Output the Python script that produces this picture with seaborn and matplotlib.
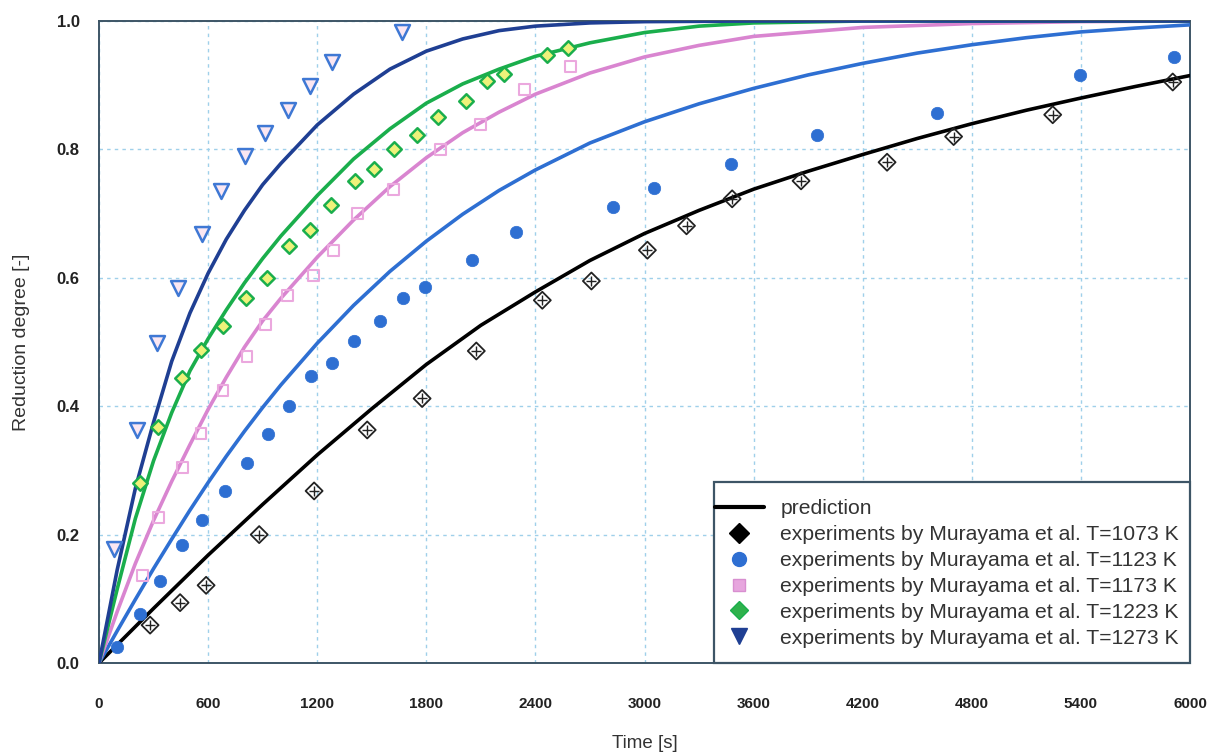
import matplotlib
matplotlib.use("Agg")
import matplotlib.pyplot as plt
from matplotlib.lines import Line2D
from matplotlib.patches import Rectangle
import seaborn as sns

# ---------------- data ----------------
# experiments (Murayama et al.)
t_1073 = [281, 446, 589, 881, 1183, 1475, 1777, 2075, 2438, 2708, 3016, 3231, 3482, 3861, 4334, 4700, 5245, 5905]
x_1073 = [0.059, 0.094, 0.121, 0.200, 0.268, 0.363, 0.412, 0.486, 0.565, 0.595, 0.643, 0.681, 0.723, 0.751, 0.780, 0.820, 0.854, 0.905]

t_1123 = [99, 226, 336, 457, 567, 693, 814, 930, 1046, 1167, 1282, 1403, 1546, 1673, 1794, 2053, 2295, 2829, 3054, 3473, 3951, 4606, 5393, 5911]
x_1123 = [0.025, 0.076, 0.127, 0.184, 0.222, 0.268, 0.312, 0.357, 0.400, 0.447, 0.467, 0.501, 0.533, 0.569, 0.586, 0.628, 0.672, 0.711, 0.740, 0.777, 0.822, 0.856, 0.916, 0.944]

t_1173 = [237, 325, 457, 561, 682, 814, 914, 1035, 1178, 1288, 1420, 1618, 1877, 2097, 2339, 2592]
x_1173 = [0.137, 0.227, 0.304, 0.357, 0.425, 0.478, 0.527, 0.572, 0.603, 0.643, 0.700, 0.738, 0.800, 0.839, 0.893, 0.929]

t_1223 = [226, 325, 457, 561, 682, 809, 925, 1046, 1161, 1277, 1409, 1513, 1623, 1750, 1866, 2020, 2135, 2229, 2466, 2581]
x_1223 = [0.281, 0.367, 0.444, 0.487, 0.525, 0.569, 0.600, 0.649, 0.675, 0.714, 0.751, 0.769, 0.800, 0.823, 0.850, 0.875, 0.906, 0.918, 0.947, 0.958]

t_1273 = [80, 210, 320, 435, 567, 671, 803, 914, 1040, 1161, 1282, 1665]
x_1273 = [0.177, 0.363, 0.498, 0.584, 0.669, 0.735, 0.789, 0.826, 0.862, 0.898, 0.936, 0.983]

# predictions
tp_1073 = [0, 300, 600, 900, 1200, 1500, 1800, 2100, 2400, 2700, 3000, 3300, 3600, 3900, 4200, 4500, 4800, 5100, 5400, 5700, 6000]
xp_1073 = [0, 0.085, 0.168, 0.247, 0.324, 0.396, 0.465, 0.526, 0.578, 0.627, 0.669, 0.705, 0.738, 0.766, 0.792, 0.817, 0.840, 0.861, 0.880, 0.898, 0.915]

tp_1123 = [0, 100, 200, 300, 400, 500, 600, 700, 800, 900, 1000, 1200, 1400, 1600, 1800, 2000, 2200, 2400, 2700, 3000, 3300, 3600, 3900, 4200, 4500, 4800, 5100, 5400, 5700, 6000]
xp_1123 = [0, 0.050, 0.099, 0.147, 0.193, 0.238, 0.281, 0.322, 0.361, 0.398, 0.433, 0.498, 0.557, 0.610, 0.657, 0.699, 0.736, 0.768, 0.810, 0.843, 0.871, 0.895, 0.916, 0.934, 0.950, 0.963, 0.974, 0.983, 0.989, 0.994]

tp_1173 = [0, 100, 200, 300, 400, 500, 600, 700, 800, 900, 1000, 1200, 1400, 1600, 1800, 2000, 2200, 2400, 2700, 3000, 3300, 3600, 4200, 4800, 5400, 6000]
xp_1173 = [0, 0.080, 0.155, 0.222, 0.283, 0.340, 0.395, 0.445, 0.492, 0.533, 0.568, 0.632, 0.690, 0.742, 0.787, 0.826, 0.858, 0.886, 0.919, 0.944, 0.962, 0.976, 0.990, 0.996, 0.999, 1.0]

tp_1223 = [0, 100, 200, 300, 400, 500, 600, 700, 800, 900, 1000, 1200, 1400, 1600, 1800, 2000, 2200, 2400, 2700, 3000, 3300, 3600, 4200, 6000]
xp_1223 = [0, 0.115, 0.225, 0.315, 0.390, 0.455, 0.505, 0.550, 0.592, 0.630, 0.665, 0.728, 0.785, 0.832, 0.872, 0.902, 0.925, 0.945, 0.966, 0.982, 0.992, 0.997, 1.0, 1.0]

tp_1273 = [0, 100, 200, 300, 400, 500, 600, 700, 800, 900, 1000, 1200, 1400, 1600, 1800, 2000, 2200, 2400, 2700, 3000, 3600, 6000]
xp_1273 = [0, 0.145, 0.272, 0.375, 0.470, 0.545, 0.607, 0.660, 0.705, 0.745, 0.778, 0.838, 0.886, 0.925, 0.953, 0.972, 0.985, 0.992, 0.997, 0.999, 1.0, 1.0]

x_ticks = [0, 600, 1200, 1800, 2400, 3000, 3600, 4200, 4800, 5400, 6000]
y_ticks = [0.0, 0.2, 0.4, 0.6, 0.8, 1.0]
legend_labels = ["prediction",
                 "experiments by Murayama et al. T=1073 K",
                 "experiments by Murayama et al. T=1123 K",
                 "experiments by Murayama et al. T=1173 K",
                 "experiments by Murayama et al. T=1223 K",
                 "experiments by Murayama et al. T=1273 K"]

# ---------------- style ----------------
sns.set_style("white")
plt.rcParams['font.family'] = ['Liberation Sans', 'DejaVu Sans']

c_black = "#000000"
c_blue = "#2e6fd2"
c_pink = "#d985d0"
c_green = "#1aae4c"
c_navy = "#1f3f93"
c_tri = "#3f78d4"
c_frame = "#3d5566"

fig = plt.figure(figsize=(12.12, 7.53), dpi=100)
ax = fig.add_axes([99/1212, 90/753, 1091/1212, 642/753])

lw = 2.6
for tp, xp, c in [(tp_1073, xp_1073, c_black), (tp_1123, xp_1123, c_blue),
                  (tp_1173, xp_1173, c_pink), (tp_1223, xp_1223, c_green),
                  (tp_1273, xp_1273, c_navy)]:
    sns.lineplot(x=tp, y=xp, ax=ax, color=c, linewidth=lw, estimator=None,
                 sort=False, zorder=3)

# experiments
sns.scatterplot(x=t_1073, y=x_1073, ax=ax, marker='D', s=75, facecolor='none',
                edgecolor='#222222', linewidth=1.3, zorder=4)
sns.scatterplot(x=t_1073, y=x_1073, ax=ax, marker='+', s=60, color='#222222',
                linewidth=1.0, zorder=4)
sns.scatterplot(x=t_1123, y=x_1123, ax=ax, marker='o', s=80, color=c_blue,
                edgecolor=c_blue, linewidth=0.5, zorder=4)
sns.scatterplot(x=t_1173, y=x_1173, ax=ax, marker='s', s=62, facecolor='none',
                edgecolor='#eba8de', linewidth=1.5, zorder=4)
sns.scatterplot(x=t_1223, y=x_1223, ax=ax, marker='D', s=55, facecolor='#eef27a',
                edgecolor=c_green, linewidth=1.8, zorder=4)
sns.scatterplot(x=t_1273, y=x_1273, ax=ax, marker='v', s=115, facecolor='#fbe7f2',
                edgecolor=c_tri, linewidth=1.8, zorder=4)

# axes
ax.set_xlim(0, 6000)
ax.set_ylim(0, 1.0)
ax.set_xticks(x_ticks)
ax.set_xticklabels([str(v) for v in x_ticks])
ax.set_yticks(y_ticks)
ax.set_yticklabels([f"{v:.1f}" for v in y_ticks])
ax.grid(True, color="#9fd0ea", linestyle=(0, (2.5, 3)), linewidth=1.0, zorder=0)
ax.set_axisbelow(True)
for sp in ax.spines.values():
    sp.set_color(c_frame)
    sp.set_linewidth(1.4)
ax.tick_params(axis='x', direction='out', length=7.5, width=1.2, color=c_frame,
               labelsize=11, labelcolor="#222222", pad=17)
ax.tick_params(axis='y', direction='out', length=8, width=1.2, color=c_frame,
               labelsize=12, labelcolor="#222222", pad=6)
for lab in ax.get_xticklabels() + ax.get_yticklabels():
    lab.set_fontweight('bold')
ax.set_xlabel("Time [s]", fontsize=13.5, color="#333333", labelpad=17)
ax.set_ylabel("Reduction degree [-]", fontsize=14, color="#333333", labelpad=19)

# legend box
ax.add_patch(Rectangle((615/1091, 0), 476/1091, 181/642, transform=ax.transAxes,
                       facecolor='white', edgecolor=c_frame, linewidth=1.6,
                       zorder=5, clip_on=False))
handles = [
    Line2D([], [], color=c_black, linewidth=3),
    Line2D([], [], linestyle='none', marker='D', markersize=10, markerfacecolor='#000000', markeredgecolor='#000000'),
    Line2D([], [], linestyle='none', marker='o', markersize=10, markerfacecolor=c_blue, markeredgecolor=c_blue),
    Line2D([], [], linestyle='none', marker='s', markersize=9, markerfacecolor='#e7a6de', markeredgecolor='#d88fd0'),
    Line2D([], [], linestyle='none', marker='D', markersize=9, markerfacecolor='#2fb24c', markeredgecolor=c_green),
    Line2D([], [], linestyle='none', marker='v', markersize=11, markerfacecolor=c_navy, markeredgecolor=c_navy),
]
leg = ax.legend(handles, legend_labels, loc='upper left',
                bbox_to_anchor=(616/1091, (663-499)/642),
                borderaxespad=0, borderpad=0, frameon=False,
                fontsize=15.2, labelspacing=0.33, handlelength=2.3, handletextpad=0.8)
for txt in leg.get_texts():
    txt.set_color("#333333")
leg.set_zorder(6)

fig.savefig("out.png", dpi=100)
